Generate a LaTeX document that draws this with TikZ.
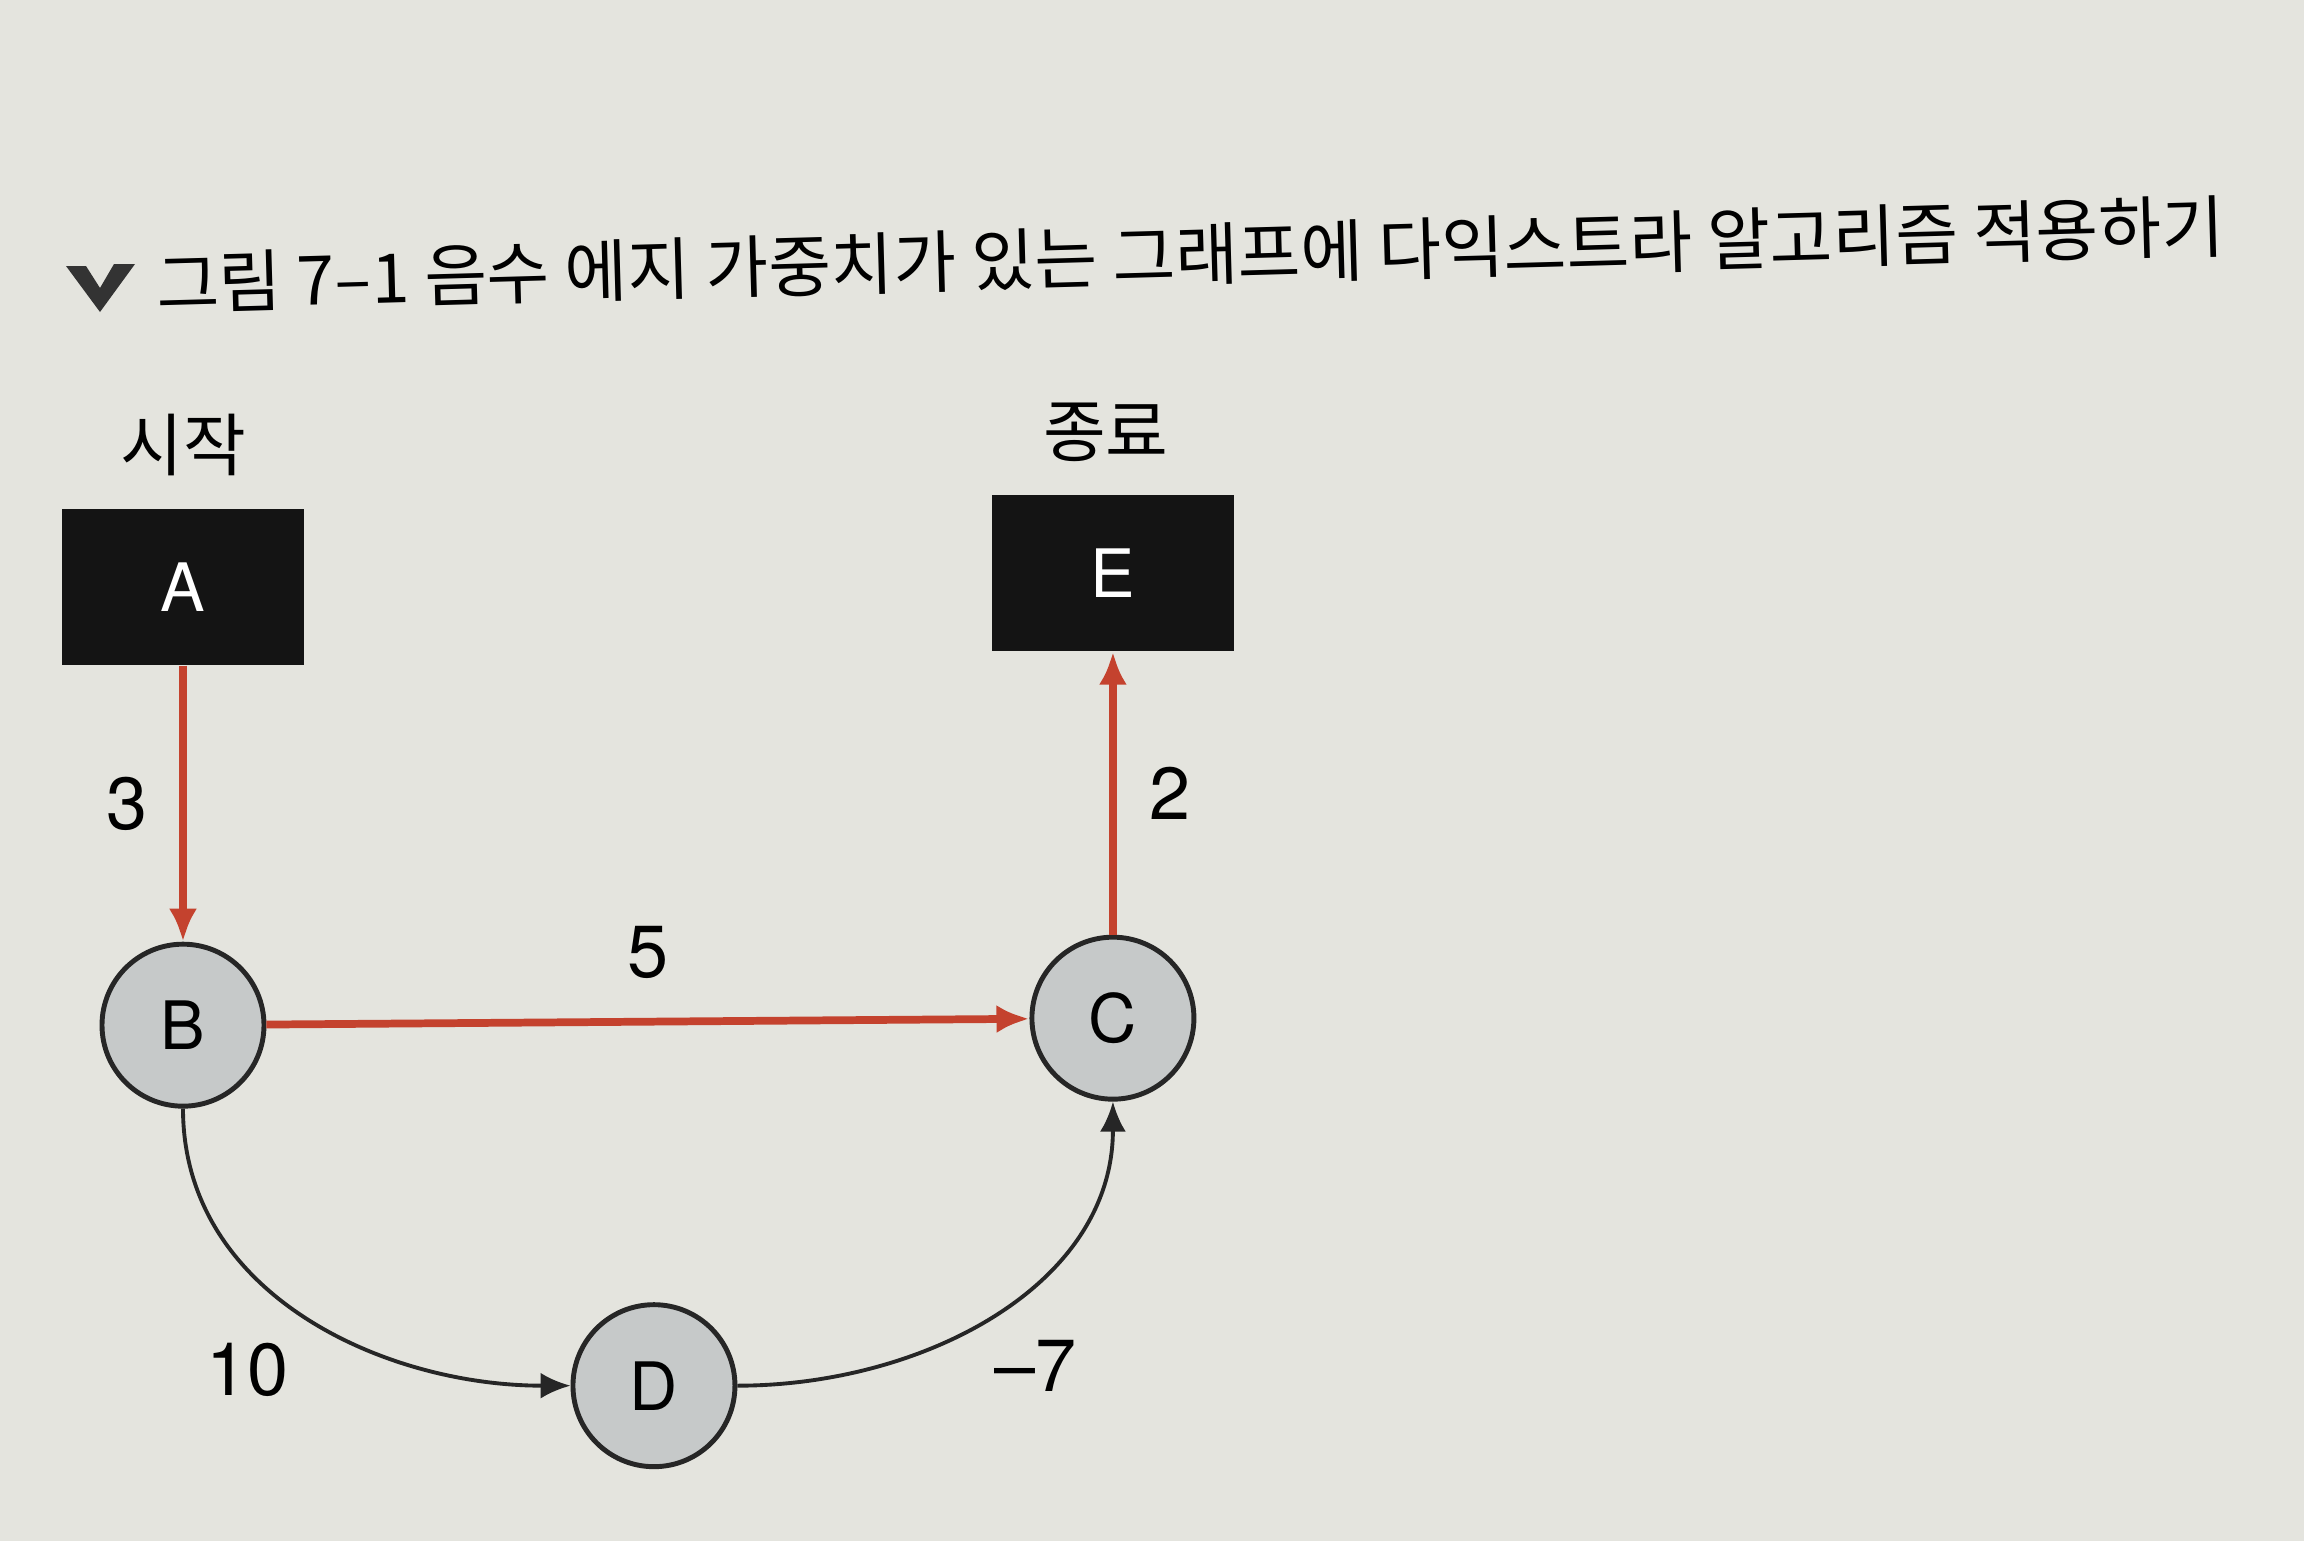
\documentclass[tikz,border=0pt]{standalone}
\usepackage{fontspec}
\setmainfont{TeX Gyre Heros}
\newfontfamily\krfont{Noto Sans CJK KR}
\usetikzlibrary{arrows.meta,positioning,calc}
\definecolor{paper}{RGB}{228,228,222}
\definecolor{edgered}{RGB}{196,66,46}
\definecolor{nodegray}{RGB}{198,201,201}
\tikzset{
  box/.style={fill=black!92,text=white,minimum width=24.2mm,minimum height=15.6mm,inner sep=0pt},
  vertex/.style={draw=black!85,line width=1.4pt,circle,fill=nodegray,minimum size=16.2mm,inner sep=0pt},
  caption/.style={font=\krfont\fontsize{19.4}{23}\selectfont},
  weight/.style={font=\fontsize{21}{25}\selectfont},
  redpath/.style={-{Latex[length=3.3mm,width=2.8mm]},draw=edgered,line width=2.2pt},
  blackpath/.style={-{Latex[length=3mm,width=2.6mm]},draw=black!85,line width=1.1pt}
}

\begin{document}
\begin{tikzpicture}[font=\fontsize{19}{23}\selectfont]

\fill[paper] (0,0) rectangle (23.04,-15.41);
\useasboundingbox (0,0) rectangle (23.04,-15.41);

% title
\fill[black!80] (0.66,-2.66) -- (0.86,-2.66) -- (1.00,-2.88) -- (1.14,-2.64) -- (1.35,-2.64) -- (1.00,-3.12) -- cycle;
\node[caption,anchor=west,rotate=1.6] (title) at (1.44,-2.84) {그림 7–1 음수 에지 가중치가 있는 그래프에 다익스트라 알고리즘 적용하기};

\node[box] (A) at (1.83,-5.87) {A};
\node[vertex,below=2.76cm of A] (B) {B};
\node[vertex,right=7.63cm of B,yshift=0.7mm] (C) {C};
\node[box,above=2.83cm of C] (E) {E};
\node[vertex] (D) at ($(B)!0.5!(C)+(0.06,-3.64)$) {D};

\node[caption,above=2mm of A] (start) {시작};
\node[caption,above=2mm of E,xshift=-0.7mm] (finish) {종료};

\draw[redpath] (A) -- node[weight,left=2mm] {3} (B);
\draw[redpath] (B) -- node[weight,above=2.7mm] {5} (C);
\draw[redpath] (C) -- node[weight,right=2.1mm] {2} (E);
\draw[blackpath] (B.south) to[out=-90,in=180] node[weight,pos=0.55,below left=0mm and 2.8mm] {10} (D.west);
\draw[blackpath] (D.east) to[out=0,in=-90] node[weight,pos=0.45,below right=0mm and 0.8mm] {–7} (C.south);

\end{tikzpicture}
\end{document}
